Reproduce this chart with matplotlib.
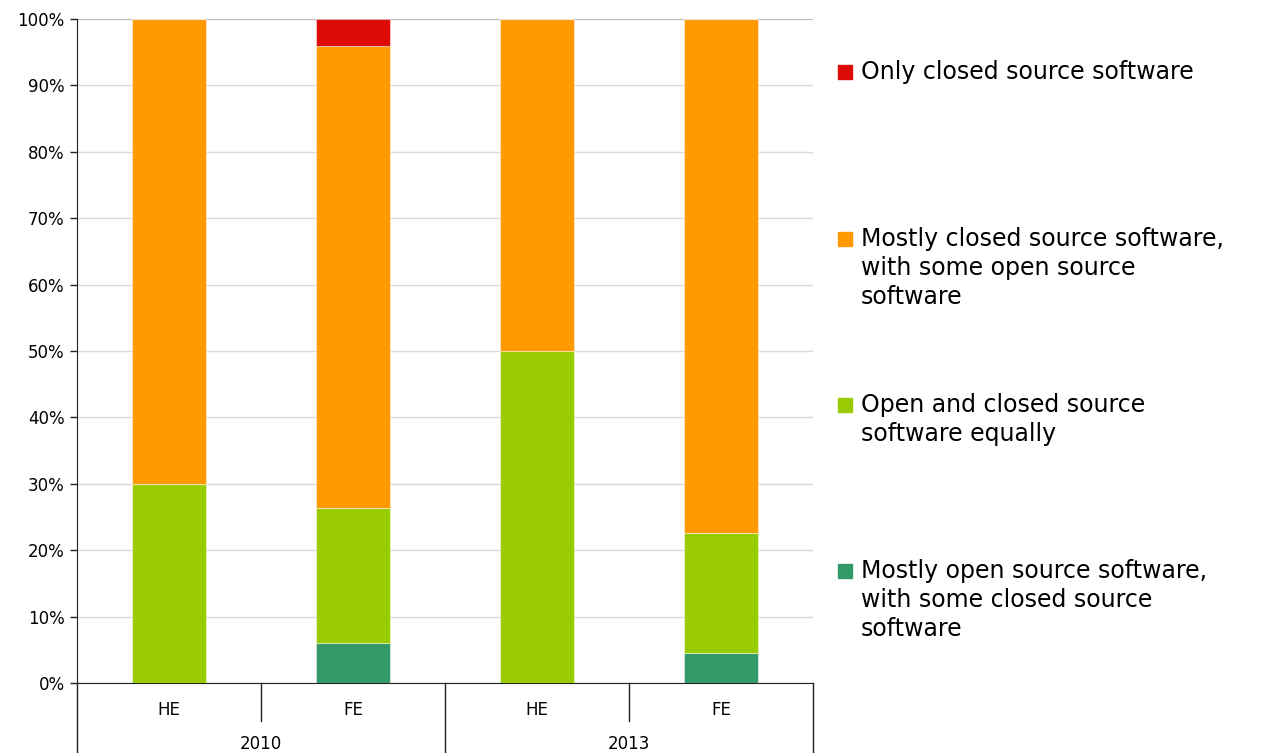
import matplotlib
matplotlib.use("Agg")
import matplotlib.pyplot as plt
from matplotlib.patches import Rectangle
import matplotlib.transforms as mtransforms

plt.rcParams['font.family'] = ['DejaVu Sans']

# ---- data ----
years = ["2010", "2013"]
sectors = ["HE", "FE", "HE", "FE"]
series_labels = [
    "Mostly open source software,\nwith some closed source\nsoftware",
    "Open and closed source\nsoftware equally",
    "Mostly closed source software,\nwith some open source\nsoftware",
    "Only closed source software",
]
mostly_open = [0.0, 6.0, 0.0, 4.5]
equal = [30.0, 20.3, 50.0, 18.1]
mostly_closed = [70.0, 69.7, 50.0, 77.4]
only_closed = [0.0, 4.0, 0.0, 0.0]
colors = ["#339966", "#99CC00", "#FF9900", "#DD0A05"]
y_ticks = [0, 10, 20, 30, 40, 50, 60, 70, 80, 90, 100]

series = [mostly_open, equal, mostly_closed, only_closed]

fig = plt.figure(figsize=(12.61, 7.53), dpi=100)
ax = fig.add_axes([77 / 1261, 70 / 753, 736 / 1261, 664 / 753])

x = list(range(len(sectors)))
bottom = [0.0] * len(sectors)
for vals, col in zip(series, colors):
    ax.bar(x, vals, width=0.4, bottom=bottom, color=col,
           edgecolor=(1, 1, 1, 0.45), linewidth=0.8, zorder=3)
    bottom = [b + v for b, v in zip(bottom, vals)]

ax.set_xlim(-0.5, len(sectors) - 0.5)
ax.set_ylim(0, 100)
ax.set_yticks(y_ticks)
ax.set_yticklabels([f"{t}%" for t in y_ticks], fontsize=12)
ax.yaxis.grid(True, color="#d9d9d9", linewidth=1, zorder=0)
ax.set_axisbelow(True)
ax.tick_params(axis='y', length=5, width=1, color="#222222", pad=4)
ax.set_xticks([])
for s in ["top", "right"]:
    ax.spines[s].set_visible(False)
ax.spines["left"].set_color("#222222")
ax.spines["bottom"].set_color("#222222")
ax.axhline(100, color="#b8b8b8", linewidth=1.3, zorder=1)

# grouped category axis (table-like)
trans = mtransforms.blended_transform_factory(ax.transData, ax.transAxes)
ax.plot([-0.5, -0.5], [0, -0.106], transform=trans, color="#222222", lw=1, clip_on=False)
for xi in [0.5, 2.5]:
    ax.plot([xi, xi], [0, -0.057], transform=trans, color="#222222", lw=1, clip_on=False)
for xi in [1.5, 3.5]:
    ax.plot([xi, xi], [0, -0.106], transform=trans, color="#222222", lw=1, clip_on=False)
for xi, lab in zip(x, sectors):
    ax.text(xi, -0.0407, lab, transform=trans, ha='center', va='center', fontsize=12)
for gi, yr in enumerate(years):
    ax.text(gi * 2 + 0.5, -0.092, yr, transform=trans, ha='center', va='center', fontsize=12)

# legend (manual)
W, H = 1261, 753
leg_y = [571, 405, 239, 72]
for lab, col, yc in zip(series_labels, colors, leg_y):
    fig.patches.append(Rectangle((838 / W, 1 - (yc + 7) / H), 14 / W, 14 / H,
                                 transform=fig.transFigure, color=col))
    fig.text(861 / W, 1 - (yc - 12) / H, lab, fontsize=17, va='top', ha='left',
             linespacing=1.27)

fig.savefig("out.png", dpi=100)
